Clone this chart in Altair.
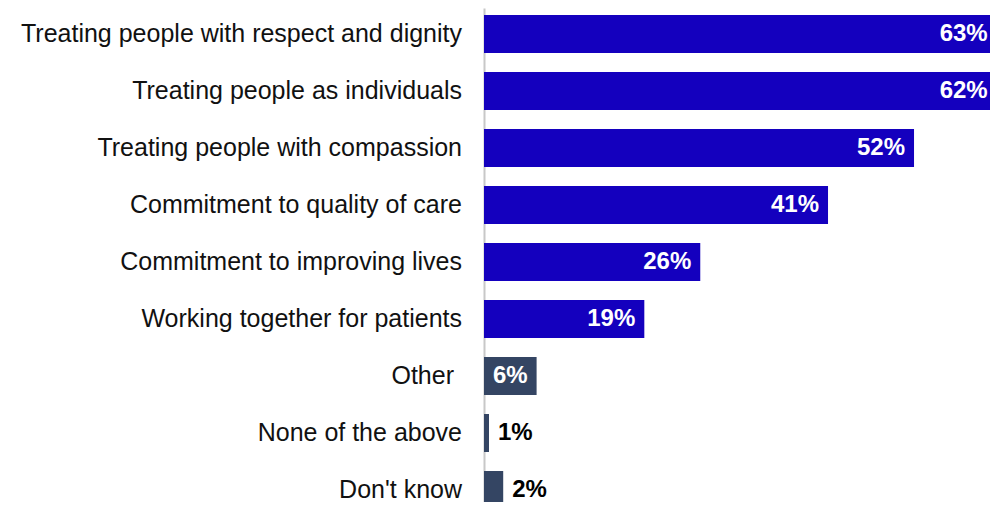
import altair as alt
import pandas as pd

categories = [
    "Treating people with respect and dignity",
    "Treating people as individuals",
    "Treating people with compassion",
    "Commitment to quality of care",
    "Commitment to improving lives",
    "Working together for patients",
    "Other",
    "None of the above",
    "Don't know",
]
values = [63, 62, 51.5, 41.2, 25.9, 19.2, 6.3, 0.6, 2.3]
labels = ["63%", "62%", "52%", "41%", "26%", "19%", "6%", "1%", "2%"]
groups = ["value", "value", "value", "value", "value", "value", "other", "other", "other"]

df = pd.DataFrame({"category": categories, "value": values, "label": labels, "group": groups})
df["inside"] = df["value"] >= 5

FONT = "Liberation Sans"
XMAX = 506 / 8.35

y = alt.Y("category:N", sort=categories, title=None,
          scale=alt.Scale(paddingInner=0.333, paddingOuter=0.123, range=[0, 508]),
          axis=alt.Axis(labels=False, ticks=False, domainColor="#c8c8c8", domainWidth=2))
x = alt.X("value:Q", title=None, scale=alt.Scale(domain=[0, XMAX], nice=False, zero=True),
          axis=None)

base = alt.Chart(df)

bars = base.mark_bar().encode(
    y=y, x=x,
    color=alt.Color("group:N", scale=alt.Scale(domain=["value", "other"],
                                               range=["#1400BE", "#344563"]), legend=None),
)

cat_main = base.transform_filter("datum.category != 'Other'").mark_text(
    align="right", baseline="middle", dx=-22, font=FONT, fontSize=25, color="#111111"
).encode(y=y, x=alt.value(0), text="category:N")

cat_other = base.transform_filter("datum.category == 'Other'").mark_text(
    align="right", baseline="middle", dx=-30, font=FONT, fontSize=25, color="#111111"
).encode(y=y, x=alt.value(0), text="category:N")

inside = base.transform_filter("datum.inside").transform_calculate(
    lx="min(datum.value, 61.4)"
).mark_text(
    align="right", baseline="middle", dx=-9, font=FONT, fontSize=24,
    fontWeight="bold", color="white").encode(
    y=y, x=alt.X("lx:Q", scale=alt.Scale(domain=[0, XMAX], nice=False, zero=True), axis=None),
    text="label:N")

outside = base.transform_filter("!datum.inside").mark_text(
    align="left", baseline="middle", dx=9, font=FONT, fontSize=24,
    fontWeight="bold", color="#000000").encode(y=y, x=x, text="label:N")

chart = alt.layer(bars, cat_main, cat_other, inside, outside).properties(
    width=506, height=494,
    autosize=alt.AutoSizeParams(type="none"),
    padding={"left": 476, "top": 0, "right": 0, "bottom": 0},
).configure_view(stroke=None)

chart.save("out.html", embed_options={"renderer": "svg", "actions": False})
